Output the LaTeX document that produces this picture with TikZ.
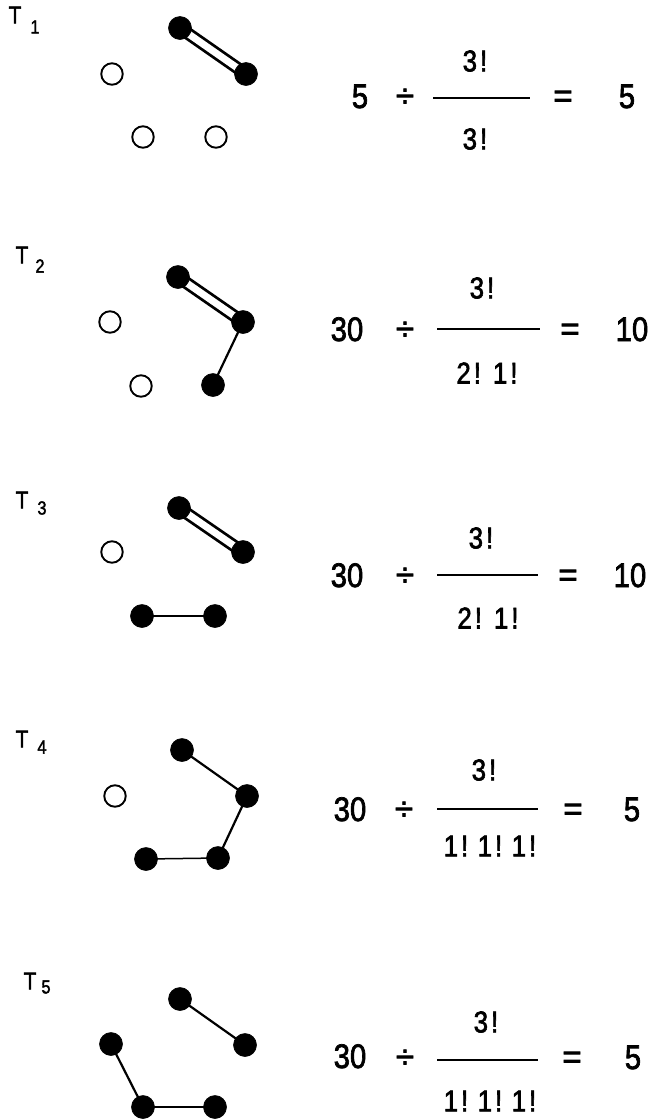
\documentclass[tikz,border=0pt]{standalone}
\usepackage{graphicx}
\usepackage{fontspec}
\setmainfont{Liberation Sans}
\newfontfamily\eqfont[FakeBold=2.2]{Liberation Sans}
\usetikzlibrary{backgrounds}
\newcommand{\cz}[1]{\scalebox{0.86}[1]{#1}}
\newcommand{\fk}[1]{#1\kern3.5pt!}
\begin{document}
\begin{tikzpicture}[x=1pt,y=-1pt,
  filled/.style={circle,fill=black,draw=black,line width=0.6pt,minimum size=23pt,inner sep=0pt},
  hollow/.style={circle,draw=black,line width=1.9pt,fill=white,minimum size=21.5pt,inner sep=0pt},
  bond/.style={line width=2.2pt},
  thinbond/.style={line width=1.5pt},
  dbond/.style={double,double distance=7pt,line width=2.8pt},
  big/.style={font=\eqfont\fontsize{34}{34}\selectfont,inner sep=0pt,anchor=base},
  op/.style={font=\eqfont\fontsize{33}{33}\selectfont,inner sep=0pt,anchor=base},
  fracpart/.style={font=\eqfont\fontsize{30}{30}\selectfont,inner sep=0pt,anchor=center},
  lab/.style={font=\eqfont\fontsize{24}{24}\selectfont,inner sep=0pt},
  sub/.style={font=\eqfont\fontsize{19}{19}\selectfont,inner sep=0pt},
  fracbar/.style={line width=2.3pt}]
\useasboundingbox (0,0) rectangle (652,1120);

% ---------- T1 ----------
\node[lab] (t1lab) at (15,15) {\cz{T}};
\node[sub] (t1sub) at (35,27) {\cz{1}};
\node[filled] (t1a) at (180,28) {};
\node[filled] (t1b) at (246,74) {};
\node[hollow] (t1c) at (112,74) {};
\node[hollow] (t1d) at (143,137) {};
\node[hollow] (t1e) at (216,137) {};
\begin{pgfonlayer}{background}
\draw[dbond] (t1a.center) -- (t1b.center);
\end{pgfonlayer}
\node[big] (t1n) at (360,108) {\cz{5}};
\node[op] (t1div) at (405,107) {÷};
\coordinate (t1bl) at (433,98);
\coordinate (t1br) at (530,98);
\draw[fracbar] (t1bl) -- (t1br);
\node[fracpart] (t1num) at (475,61) {\cz{\fk{3}}};
\node[fracpart] (t1den) at (475,139) {\cz{\fk{3}}};
\node[op] (t1eq) at (563,107) {=};
\node[big] (t1res) at (627,108) {\cz{5}};

% ---------- T2 ----------
\node[lab] (t2lab) at (22,255) {\cz{T}};
\node[sub] (t2sub) at (40,266) {\cz{2}};
\node[filled] (t2a) at (178,277) {};
\node[filled] (t2b) at (243,322) {};
\node[hollow] (t2c) at (110,322) {};
\node[hollow] (t2d) at (141,386) {};
\node[filled] (t2e) at (213,385) {};
\begin{pgfonlayer}{background}
\draw[dbond] (t2a.center) -- (t2b.center);
\draw[bond] (t2b.center) -- (t2e.center);
\end{pgfonlayer}
\node[big] (t2n) at (347,341) {\cz{30}};
\node[op] (t2div) at (405,340) {÷};
\coordinate (t2bl) at (437,329);
\coordinate (t2br) at (540,329);
\draw[fracbar] (t2bl) -- (t2br);
\node[fracpart] (t2num) at (482,288) {\cz{\fk{3}}};
\node[fracpart] (t2den) at (487,373) {\cz{\fk{2}\hspace{14pt}\fk{1}}};
\node[op] (t2eq) at (570,340) {=};
\node[big] (t2res) at (632,341) {\cz{10}};

% ---------- T3 ----------
\node[lab] (t3lab) at (22,500) {\cz{T}};
\node[sub] (t3sub) at (42,508) {\cz{3}};
\node[filled] (t3a) at (179,508) {};
\node[filled] (t3b) at (243,552) {};
\node[hollow] (t3c) at (112,552) {};
\node[filled] (t3d) at (142,616) {};
\node[filled] (t3e) at (215,616) {};
\begin{pgfonlayer}{background}
\draw[dbond] (t3a.center) -- (t3b.center);
\draw[thinbond] (t3d.center) -- (t3e.center);
\end{pgfonlayer}
\node[big] (t3n) at (347,587) {\cz{30}};
\node[op] (t3div) at (405,586) {÷};
\coordinate (t3bl) at (437,575);
\coordinate (t3br) at (538,575);
\draw[fracbar] (t3bl) -- (t3br);
\node[fracpart] (t3num) at (481,538) {\cz{\fk{3}}};
\node[fracpart] (t3den) at (488,618) {\cz{\fk{2}\hspace{14pt}\fk{1}}};
\node[op] (t3eq) at (568,586) {=};
\node[big] (t3res) at (630,587) {\cz{10}};

% ---------- T4 ----------
\node[lab] (t4lab) at (22,739) {\cz{T}};
\node[sub] (t4sub) at (42,747) {\cz{4}};
\node[filled] (t4a) at (182,750) {};
\node[filled] (t4b) at (247,796) {};
\node[hollow] (t4c) at (115,796) {};
\node[filled] (t4d) at (146,859) {};
\node[filled] (t4e) at (218,858) {};
\begin{pgfonlayer}{background}
\draw[bond] (t4a.center) -- (t4b.center);
\draw[bond] (t4b.center) -- (t4e.center);
\draw[thinbond] (t4d.center) -- (t4e.center);
\end{pgfonlayer}
\node[big] (t4n) at (350,821) {\cz{30}};
\node[op] (t4div) at (404,820) {÷};
\coordinate (t4bl) at (437,809);
\coordinate (t4br) at (538,809);
\draw[fracbar] (t4bl) -- (t4br);
\node[fracpart] (t4num) at (484,770) {\cz{\fk{3}}};
\node[fracpart] (t4den) at (490,846) {\cz{\fk{1}\hspace{11pt}\fk{1}\hspace{11pt}\fk{1}}};
\node[op] (t4eq) at (573,820) {=};
\node[big] (t4res) at (632,821) {\cz{5}};

% ---------- T5 ----------
\node[lab] (t5lab) at (30,981) {\cz{T}};
\node[sub] (t5sub) at (46,987) {\cz{5}};
\node[filled] (t5a) at (180,999) {};
\node[filled] (t5b) at (245,1045) {};
\node[filled] (t5c) at (111,1044) {};
\node[filled] (t5d) at (143,1107) {};
\node[filled] (t5e) at (215,1107) {};
\begin{pgfonlayer}{background}
\draw[bond] (t5a.center) -- (t5b.center);
\draw[bond] (t5c.center) -- (t5d.center);
\draw[thinbond] (t5d.center) -- (t5e.center);
\end{pgfonlayer}
\node[big] (t5n) at (350,1068) {\cz{30}};
\node[op] (t5div) at (405,1068) {÷};
\coordinate (t5bl) at (437,1060);
\coordinate (t5br) at (538,1060);
\draw[fracbar] (t5bl) -- (t5br);
\node[fracpart] (t5num) at (486,1022) {\cz{\fk{3}}};
\node[fracpart] (t5den) at (490,1101) {\cz{\fk{1}\hspace{11pt}\fk{1}\hspace{11pt}\fk{1}}};
\node[op] (t5eq) at (572,1068) {=};
\node[big] (t5res) at (633,1069) {\cz{5}};
\end{tikzpicture}
\end{document}
